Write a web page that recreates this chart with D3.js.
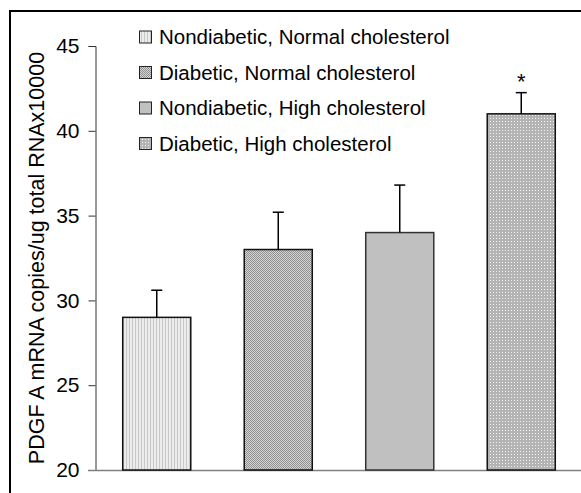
<!DOCTYPE html>
<html><head><meta charset="utf-8">
<script src="https://cdn.jsdelivr.net/npm/d3@7"></script>
<style>body{margin:0;background:#fff}svg{display:block}text{font-family:"Liberation Sans",Arial,sans-serif}</style>
</head><body>
<script>
const categories = ["Nondiabetic, Normal cholesterol","Diabetic, Normal cholesterol","Nondiabetic, High cholesterol","Diabetic, High cholesterol"];
const means = [29, 33, 34, 41];
const errors = [1.6, 2.2, 2.8, 1.25];
const yTicks = [20, 25, 30, 35, 40, 45];
const yTitle = "PDGF A mRNA copies/ug total RNAx10000";

const W = 581, H = 493;
const svg = d3.select("body").append("svg").attr("width", W).attr("height", H);
const defs = svg.append("defs");
// patterns
const p1 = defs.append("pattern").attr("id","p1").attr("width",3).attr("height",3).attr("patternUnits","userSpaceOnUse");
p1.append("rect").attr("width",3).attr("height",3).attr("fill","#ececec");
p1.append("rect").attr("width",1).attr("height",3).attr("fill","#c8c8c8");
const p2 = defs.append("pattern").attr("id","p2").attr("width",2).attr("height",2).attr("patternUnits","userSpaceOnUse");
p2.append("rect").attr("width",2).attr("height",2).attr("fill","#d4d4d4");
p2.append("rect").attr("width",1).attr("height",1).attr("fill","#909090");
p2.append("rect").attr("x",1).attr("y",1).attr("width",1).attr("height",1).attr("fill","#909090");
const p4 = defs.append("pattern").attr("id","p4").attr("width",3).attr("height",3).attr("patternUnits","userSpaceOnUse");
p4.append("rect").attr("width",3).attr("height",3).attr("fill","#b4b4b4");
p4.append("rect").attr("x",1).attr("y",1).attr("width",1).attr("height",1).attr("fill","#f4f4f4");
const fills = ["url(#p1)","url(#p2)","#c0c0c0","url(#p4)"];
const strokes = ["#111","#111","#333","#111"];

// frame
svg.append("rect").attr("x",10).attr("y",11).attr("width",W).attr("height",H).attr("fill","none").attr("stroke","#000").attr("stroke-width",2);

const y = d3.scaleLinear().domain([20,45]).range([470,46]);
const x = d3.scaleBand().domain(categories).range([96,582]).paddingInner(0.44).paddingOuter(0.22);

// y axis
const ax = svg.append("g").attr("transform","translate(95.5,0)")
  .call(d3.axisLeft(y).tickValues(yTicks).tickSize(7).tickPadding(9).tickFormat(d3.format("d")));
ax.select(".domain").attr("stroke","#333");
ax.selectAll(".tick line").attr("stroke","#333");
ax.selectAll(".tick text").attr("font-size",21).attr("fill","#000").attr("font-family","Liberation Sans, Arial, sans-serif");

// baseline
svg.append("line").attr("x1",88).attr("x2",W).attr("y1",y(20)+0.5).attr("y2",y(20)+0.5).attr("stroke","#808080").attr("stroke-width",1.5);

// bars
svg.selectAll("rect.bar").data(categories).join("rect").attr("class","bar")
  .attr("x",d=>x(d)).attr("width",x.bandwidth())
  .attr("y",(d,i)=>y(means[i])).attr("height",(d,i)=>y(20)-y(means[i]))
  .attr("fill",(d,i)=>fills[i]).attr("stroke",(d,i)=>strokes[i]).attr("stroke-width",1.5);

// error bars
categories.forEach((c,i)=>{
  const cx = x(c)+x.bandwidth()/2;
  svg.append("line").attr("x1",cx).attr("x2",cx).attr("y1",y(means[i])).attr("y2",y(means[i]+errors[i])).attr("stroke","#000").attr("stroke-width",1.5);
  svg.append("line").attr("x1",cx-5.5).attr("x2",cx+5.5).attr("y1",y(means[i]+errors[i])).attr("y2",y(means[i]+errors[i])).attr("stroke","#000").attr("stroke-width",1.5);
});
// asterisk
const c4 = categories[3];
svg.append("text").attr("x",x(c4)+x.bandwidth()/2).attr("y",y(means[3]+errors[3])-4)
  .attr("text-anchor","middle").attr("font-size",22).text("*");

// y title
svg.append("text").attr("transform",`translate(44,258) rotate(-90)`)
  .attr("text-anchor","middle").attr("font-size",21.5).text(yTitle);

// legend
const lg = svg.append("g");
categories.forEach((c,i)=>{
  const ly = 37 + i*35.5;
  lg.append("rect").attr("x",139.5).attr("y",ly-6).attr("width",12).attr("height",12)
    .attr("fill",fills[i]).attr("stroke","#222").attr("stroke-width",1);
  lg.append("text").attr("x",159).attr("y",ly+7).attr("font-size",20.5).text(c);
});
</script>
</body></html>
